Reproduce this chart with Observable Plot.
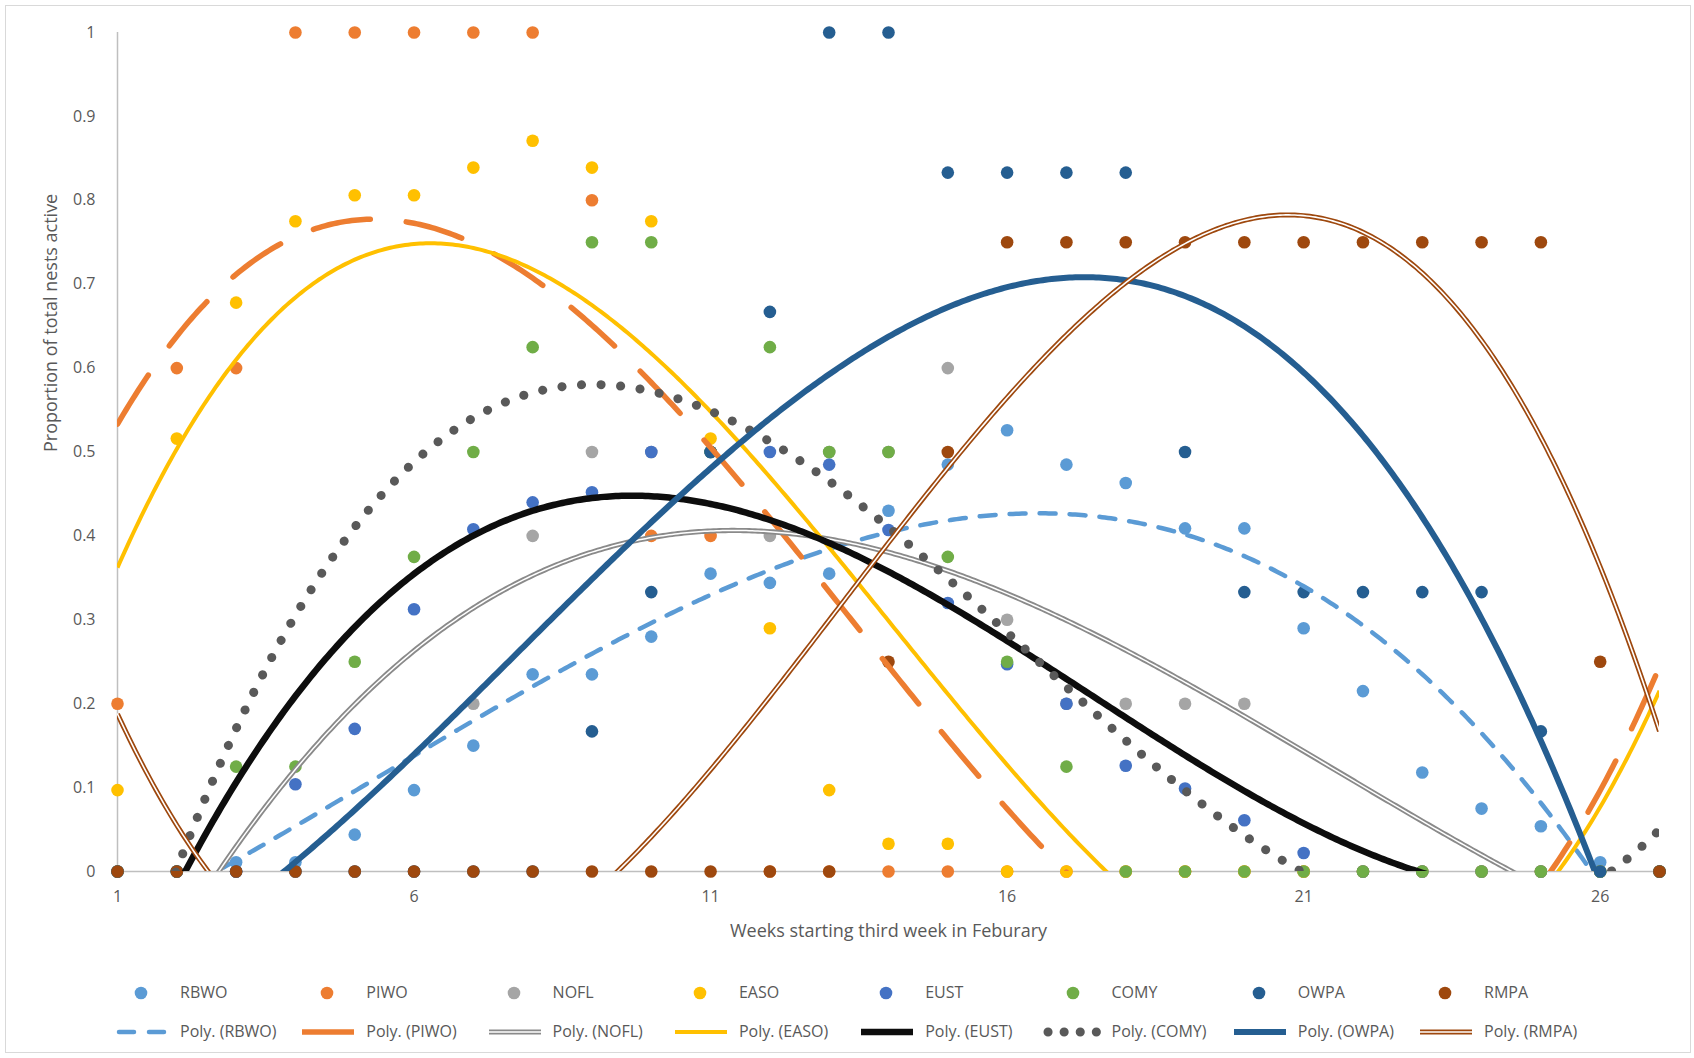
<!DOCTYPE html>
<html><head><meta charset="utf-8">
<script src="https://cdn.jsdelivr.net/npm/d3@7"></script>
<script src="https://cdn.jsdelivr.net/npm/@observablehq/plot@0.6"></script>
<style>
body{margin:0;background:#fff;font-family:"Open Sans",sans-serif;}
#wrap{position:relative;width:1694px;height:1058px;overflow:hidden;background:#fff}
#border{position:absolute;left:5px;top:5px;width:1686px;height:1048px;border:1px solid #d9d9d9;box-sizing:border-box}
#chart{position:absolute;left:0;top:0}
.lg{position:absolute;font-size:16px;color:#595959;white-space:nowrap;line-height:20px}
</style></head>
<body><div id="wrap"><div id="border"></div><div id="chart"></div><div id="legend"></div></div>
<script>
const species = ["RBWO","PIWO","NOFL","EASO","EUST","COMY","OWPA","RMPA"];
const colors  = ["#5B9BD5","#ED7D31","#A5A5A5","#FFC000","#4472C4","#70AD47","#255E91","#9E480E"];
const weeks = [1,2,3,4,5,6,7,8,9,10,11,12,13,14,15,16,17,18,19,20,21,22,23,24,25,26,27];
const RBWO = [0,0,0.011,0.011,0.044,0.097,0.15,0.235,0.235,0.28,0.355,0.344,0.355,0.43,0.485,0.526,0.485,0.463,0.409,0.409,0.29,0.215,0.118,0.075,0.054,0.011,0];
const PIWO = [0.2,0.6,0.6,1,1,1,1,1,0.8,0.4,0.4,0,0,0,0,0,0,0,0,0,0,0,0,0,0,0,0];
const NOFL = [0,0,0,0,0,0,0.2,0.4,0.5,0.5,0.5,0.4,0.5,0.5,0.6,0.3,0.2,0.2,0.2,0.2,0,0,0,0,0,0,0];
const EASO = [0.097,0.516,0.678,0.775,0.806,0.806,0.839,0.871,0.839,0.775,0.516,0.29,0.097,0.033,0.033,0,0,0,0,0,0,0,0,0,0,0,0];
const EUST = [0,0,0,0.104,0.17,0.3125,0.408,0.44,0.452,0.5,0.5,0.5,0.485,0.407,0.32,0.247,0.2,0.126,0.099,0.061,0.022,0,0,0,0,0,0];
const COMY = [0,0,0.125,0.125,0.25,0.375,0.5,0.625,0.75,0.75,0.5,0.625,0.5,0.5,0.375,0.25,0.125,0,0,0,0,0,0,0,0,0,0];
const OWPA = [0,0,0,0,0,0,0,0,0.167,0.333,0.5,0.667,1,1,0.833,0.833,0.833,0.833,0.5,0.333,0.333,0.333,0.333,0.333,0.167,0,0];
const RMPA = [0,0,0,0,0,0,0,0,0,0,0,0,0,0.25,0.5,0.75,0.75,0.75,0.75,0.75,0.75,0.75,0.75,0.75,0.75,0.25,0];
const xTicks = [1,6,11,16,21,26];
const yTicks = [0,0.1,0.2,0.3,0.4,0.5,0.6,0.7,0.8,0.9,1];
const yTickLabels = ["0","0.1","0.2","0.3","0.4","0.5","0.6","0.7","0.8","0.9","1"];
const xTitle = "Weeks starting third week in Feburary";
const yTitle = "Proportion of total nests active";
const seriesValues = {RBWO,PIWO,NOFL,EASO,EUST,COMY,OWPA,RMPA};

// Excel-style order-3 polynomial trendline (least squares fit of each series)
function cubicFit(xs, ys){
  const n=4, c=14, A=Array.from({length:n},()=>Array(n+1).fill(0));
  xs.forEach((xv,k)=>{const t=xv-c,p=[1,t,t*t,t*t*t];
    for(let i=0;i<n;i++){for(let j=0;j<n;j++)A[i][j]+=p[i]*p[j];A[i][n]+=p[i]*ys[k];}});
  for(let i=0;i<n;i++){let m=i;for(let r=i+1;r<n;r++)if(Math.abs(A[r][i])>Math.abs(A[m][i]))m=r;[A[i],A[m]]=[A[m],A[i]];
    for(let r=0;r<n;r++){if(r===i)continue;const f=A[r][i]/A[i][i];for(let q=i;q<=n;q++)A[r][q]-=f*A[i][q];}}
  const b=A.map((row,i)=>row[n]/row[i]);
  return x=>{const t=x-c;return b[0]+b[1]*t+b[2]*t*t+b[3]*t*t*t;};
}
const styles = {
  RBWO:{stroke:"#5B9BD5",strokeWidth:4.5,strokeDasharray:"16,14",strokeLinecap:"round"},
  PIWO:{stroke:"#ED7D31",strokeWidth:5.5,strokeDasharray:"58,36",strokeLinecap:"round"},
  NOFL:{stroke:"#8a8a8a",strokeWidth:5.2,double:"#fff",inner:1.5},
  EASO:{stroke:"#FFC000",strokeWidth:4},
  EUST:{stroke:"#0d0d0d",strokeWidth:6.5},
  COMY:{stroke:"#595959",strokeWidth:9,strokeDasharray:"0.1,19.5",strokeLinecap:"round"},
  OWPA:{stroke:"#255E91",strokeWidth:6},
  RMPA:{stroke:"#9E480E",strokeWidth:5,double:"#fff",inner:1.6}
};
const points = [];
species.forEach(s=>seriesValues[s].forEach((v,i)=>points.push({series:s,week:weeks[i],value:v})));
const samp = [];
for(let k=0;k<=520;k++) samp.push(weeks[0]+k*(weeks[weeks.length-1]-weeks[0])/520);
const trendMarks = [];
species.forEach(s=>{
  const f = cubicFit(weeks, seriesValues[s]);
  const data = samp.map(x=>({x, y:f(x)}));
  const st = styles[s];
  trendMarks.push(Plot.line(data,{x:"x",y:"y",stroke:st.stroke,strokeWidth:st.strokeWidth,strokeDasharray:st.strokeDasharray,strokeLinecap:st.strokeLinecap||"butt",strokeLinejoin:"round",clip:true}));
  if(st.double) trendMarks.push(Plot.line(data,{x:"x",y:"y",stroke:st.double,strokeWidth:st.inner,clip:true}));
});

const H = 960;
const chart = Plot.plot({
  width:1694, height:H,
  marginLeft:117, marginRight:35, marginTop:32, marginBottom:H-871,
  x:{domain:[weeks[0],weeks[weeks.length-1]]},
  y:{domain:[0,1]},
  color:{domain:species, range:colors},
  style:{fontFamily:"Open Sans, sans-serif", fontSize:"16px", color:"#595959", background:"transparent", overflow:"visible"},
  marks:[
    Plot.ruleY([0],{stroke:"#bfbfbf",strokeWidth:1.5}),
    Plot.ruleX([weeks[0]],{stroke:"#bfbfbf",strokeWidth:1.5}),
    Plot.axisX({ticks:xTicks,tickSize:0,tickPadding:19,label:null,fill:"#595959"}),
    Plot.axisY({ticks:yTicks,tickSize:0,tickPadding:22,label:null,fill:"#595959",tickFormat:(d,i)=>yTickLabels[i]}),
    Plot.dot(points,{x:"week",y:"value",fill:"series",r:6.3,stroke:null}),
    ...trendMarks,
    Plot.text([xTitle],{frameAnchor:"bottom",dy:60,fontSize:18,fill:"#595959",lineAnchor:"middle"}),
    Plot.text([yTitle],{frameAnchor:"left",dx:-66,rotate:-90,fontSize:18,fill:"#595959",lineAnchor:"middle"})
  ]
});
document.getElementById("chart").appendChild(chart);

// legend (two rows: markers, then trendlines)
const lg = document.getElementById("legend");
const pitch = 186.3, lab0 = 180;
species.forEach((s,i)=>{
  const lx = lab0 + i*pitch;
  const m = document.createElementNS("http://www.w3.org/2000/svg","svg");
  m.setAttribute("width",14);m.setAttribute("height",14);
  m.style.cssText=`position:absolute;left:${lx-46}px;top:${993-7}px`;
  m.innerHTML=`<circle cx="7" cy="7" r="6.3" fill="${colors[i]}"/>`;
  lg.appendChild(m);
  const t1=document.createElement("div");t1.className="lg";t1.textContent=s;t1.style.left=lx+"px";t1.style.top=(993-11)+"px";lg.appendChild(t1);
  const st=styles[s];
  const sw=document.createElementNS("http://www.w3.org/2000/svg","svg");
  sw.setAttribute("width",64);sw.setAttribute("height",16);
  sw.style.cssText=`position:absolute;left:${lx-70}px;top:${1032-8}px`;
  let inner=`<line x1="6" x2="58" y1="8" y2="8" stroke="${st.stroke}" stroke-width="${st.strokeWidth}" stroke-linecap="${s==="COMY"||s==="RBWO"?"round":"butt"}" ${s==="RBWO"?'stroke-dasharray="15,15" transform="translate(3,0)"':""} ${s==="COMY"?'stroke-dasharray="0.1,16"':""}/>`;
  if(st.double) inner+=`<line x1="6" x2="58" y1="8" y2="8" stroke="#fff" stroke-width="${st.inner}"/>`;
  sw.innerHTML=inner; lg.appendChild(sw);
  const t2=document.createElement("div");t2.className="lg";t2.textContent=`Poly. (${s})`;t2.style.left=lx+"px";t2.style.top=(1032-11)+"px";lg.appendChild(t2);
});
</script></body></html>
